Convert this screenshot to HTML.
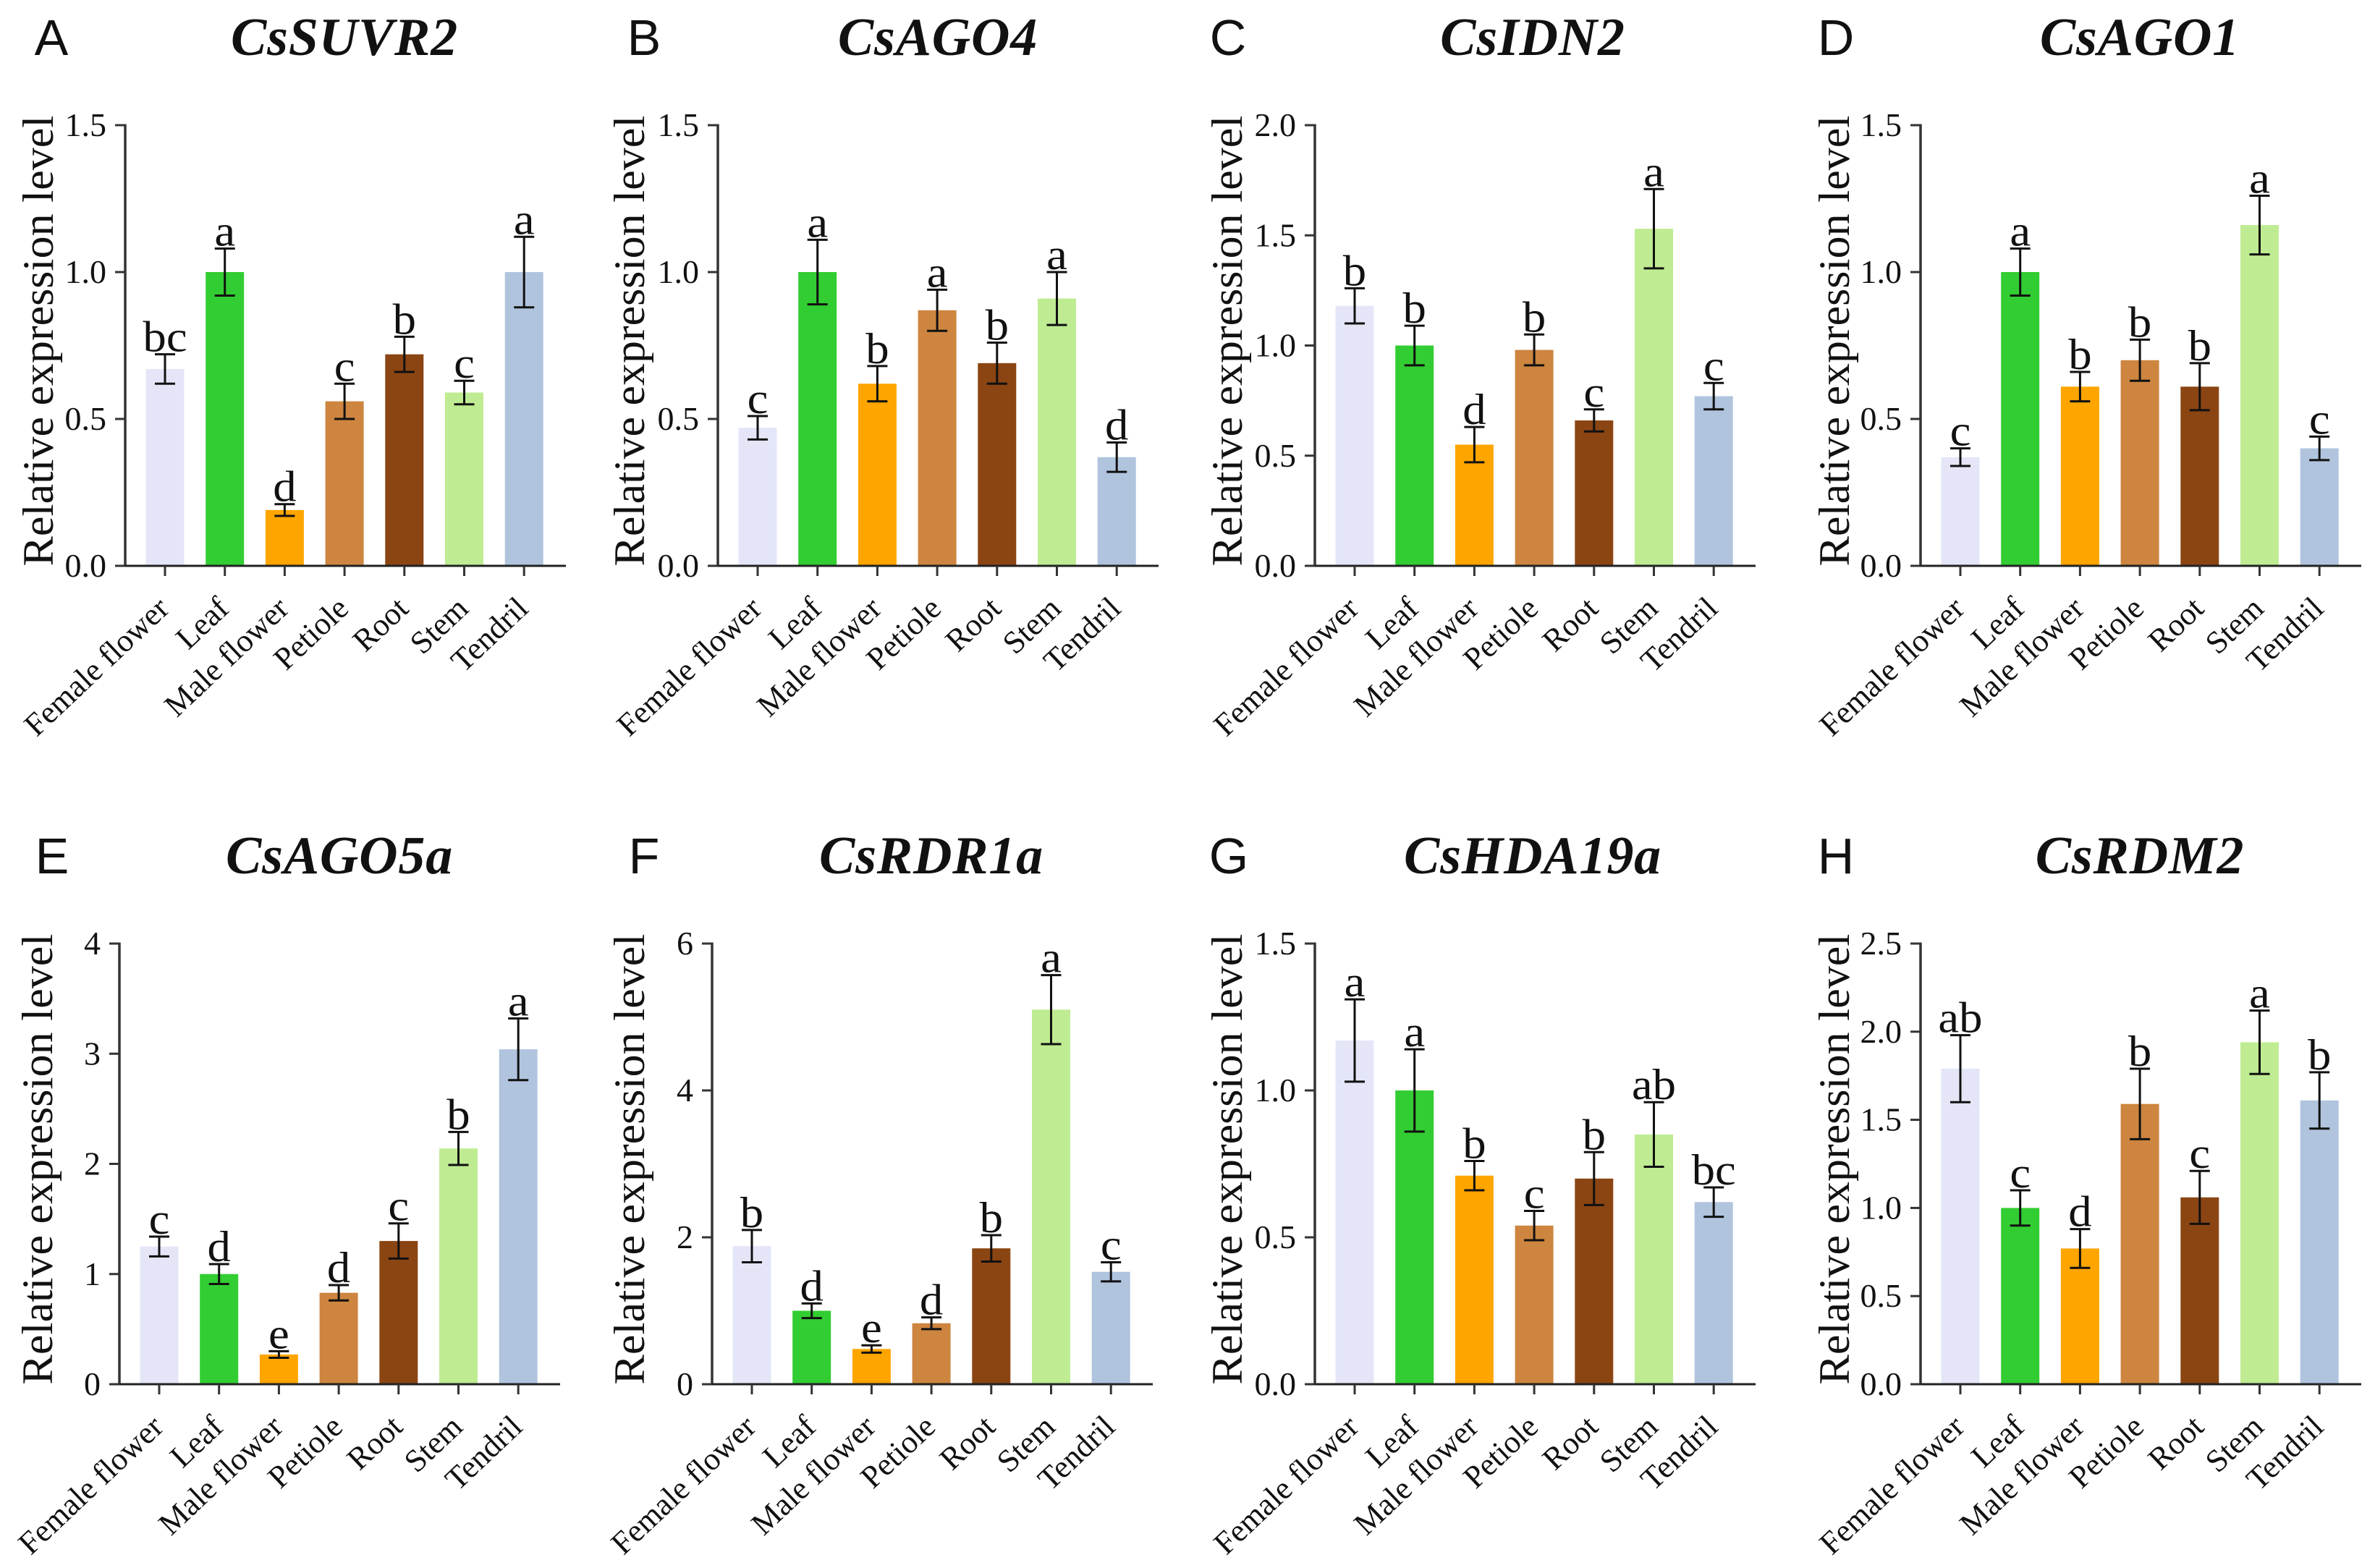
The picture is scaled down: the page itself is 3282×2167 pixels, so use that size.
<!DOCTYPE html>
<html lang="en">
<head>
<meta charset="utf-8">
<title>Relative expression levels of eight genes</title>
<style>
  html, body { margin: 0; padding: 0; background: #fff; }
  svg { display: block; }
  text { fill: #111; font-family: "Liberation Serif", serif; }
  .panel-letter { font-family: "Liberation Sans", sans-serif; font-size: 70px; }
  .title { font-size: 74px; font-weight: bold; font-style: italic; text-anchor: middle; letter-spacing: 0.8px; }
  .ylab { font-size: 60px; text-anchor: middle; }
  .ytick { font-size: 46px; text-anchor: end; }
  .xtick { font-size: 44px; text-anchor: end; }
  .sig { font-size: 60px; text-anchor: middle; }
</style>
</head>
<body>
<svg id="figure" xmlns="http://www.w3.org/2000/svg" width="3282" height="2167" viewBox="0 0 3282 2167"></svg>
<script>
const categories = ['Female flower', 'Leaf', 'Male flower', 'Petiole', 'Root', 'Stem', 'Tendril'];

const valuesA = [0.67, 1.0, 0.19, 0.56, 0.72, 0.59, 1.0];
const errorsA = [0.05, 0.08, 0.02, 0.06, 0.06, 0.04, 0.12];
const lettersA = ['bc', 'a', 'd', 'c', 'b', 'c', 'a'];
const ticksA = ['0.0', '0.5', '1.0', '1.5'];

const valuesB = [0.47, 1.0, 0.62, 0.87, 0.69, 0.91, 0.37];
const errorsB = [0.04, 0.11, 0.06, 0.07, 0.07, 0.09, 0.05];
const lettersB = ['c', 'a', 'b', 'a', 'b', 'a', 'd'];
const ticksB = ['0.0', '0.5', '1.0', '1.5'];

const valuesC = [1.18, 1.0, 0.55, 0.98, 0.66, 1.53, 0.77];
const errorsC = [0.08, 0.09, 0.08, 0.07, 0.05, 0.18, 0.06];
const lettersC = ['b', 'b', 'd', 'b', 'c', 'a', 'c'];
const ticksC = ['0.0', '0.5', '1.0', '1.5', '2.0'];

const valuesD = [0.37, 1.0, 0.61, 0.70, 0.61, 1.16, 0.40];
const errorsD = [0.03, 0.08, 0.05, 0.07, 0.08, 0.10, 0.04];
const lettersD = ['c', 'a', 'b', 'b', 'b', 'a', 'c'];
const ticksD = ['0.0', '0.5', '1.0', '1.5'];

const valuesE = [1.25, 1.0, 0.27, 0.83, 1.30, 2.14, 3.04];
const errorsE = [0.09, 0.09, 0.03, 0.07, 0.16, 0.15, 0.28];
const lettersE = ['c', 'd', 'e', 'd', 'c', 'b', 'a'];
const ticksE = ['0', '1', '2', '3', '4'];

const valuesF = [1.88, 1.0, 0.48, 0.83, 1.85, 5.10, 1.53];
const errorsF = [0.22, 0.10, 0.05, 0.08, 0.18, 0.47, 0.13];
const lettersF = ['b', 'd', 'e', 'd', 'b', 'a', 'c'];
const ticksF = ['0', '2', '4', '6'];

const valuesG = [1.17, 1.0, 0.71, 0.54, 0.70, 0.85, 0.62];
const errorsG = [0.14, 0.14, 0.05, 0.05, 0.09, 0.11, 0.05];
const lettersG = ['a', 'a', 'b', 'c', 'b', 'ab', 'bc'];
const ticksG = ['0.0', '0.5', '1.0', '1.5'];

const valuesH = [1.79, 1.0, 0.77, 1.59, 1.06, 1.94, 1.61];
const errorsH = [0.19, 0.10, 0.11, 0.20, 0.15, 0.18, 0.16];
const lettersH = ['ab', 'c', 'd', 'b', 'c', 'a', 'b'];
const ticksH = ['0.0', '0.5', '1.0', '1.5', '2.0', '2.5'];

const barColors = ['#e4e6f8', '#32cd32', '#ffa500', '#cd853f', '#8b4513', '#bfec92', '#b0c4de'];

const panels = [
  { id: 'A', gene: 'CsSUVR2', values: valuesA, errors: errorsA, letters: lettersA, ticks: ticksA, axisX: 173, top: 173, labelX: 73, letterX: 71, titleX: 476 },
  { id: 'B', gene: 'CsAGO4', values: valuesB, errors: errorsB, letters: lettersB, ticks: ticksB, axisX: 992, top: 173, labelX: 890, letterX: 890, titleX: 1296 },
  { id: 'C', gene: 'CsIDN2', values: valuesC, errors: errorsC, letters: lettersC, ticks: ticksC, axisX: 1817, top: 173, labelX: 1716, letterX: 1697, titleX: 2118 },
  { id: 'D', gene: 'CsAGO1', values: valuesD, errors: errorsD, letters: lettersD, ticks: ticksD, axisX: 2654, top: 173, labelX: 2555, letterX: 2537, titleX: 2957 },
  { id: 'E', gene: 'CsAGO5a', values: valuesE, errors: errorsE, letters: lettersE, ticks: ticksE, axisX: 165, top: 1304, labelX: 72, letterX: 72, titleX: 469 },
  { id: 'F', gene: 'CsRDR1a', values: valuesF, errors: errorsF, letters: lettersF, ticks: ticksF, axisX: 984, top: 1304, labelX: 890, letterX: 890, titleX: 1287 },
  { id: 'G', gene: 'CsHDA19a', values: valuesG, errors: errorsG, letters: lettersG, ticks: ticksG, axisX: 1817, top: 1304, labelX: 1716, letterX: 1698, titleX: 2118 },
  { id: 'H', gene: 'CsRDM2', values: valuesH, errors: errorsH, letters: lettersH, ticks: ticksH, axisX: 2654, top: 1304, labelX: 2555, letterX: 2537, titleX: 2957 }
];

const NS = 'http://www.w3.org/2000/svg';
const svg = document.getElementById('figure');
const PLOT_H = 609, PLOT_W = 609, FIRST = 55, STEP = 82.7, BAR_W = 53, CAP = 14, TICK = 14, STROKE = 3;

function make(parent, tag, attrs, text) {
  const el = document.createElementNS(NS, tag);
  for (const k in attrs) el.setAttribute(k, attrs[k]);
  if (text !== undefined) el.textContent = text;
  parent.appendChild(el);
  return el;
}

function line(parent, x1, y1, x2, y2, color, width) {
  return make(parent, 'line', { x1: x1, y1: y1, x2: x2, y2: y2, stroke: color, 'stroke-width': width });
}

panels.forEach(function (p) {
  const y0 = p.top + PLOT_H;
  const yMax = parseFloat(p.ticks[p.ticks.length - 1]);
  const yScale = function (v) { return y0 - (v / yMax) * PLOT_H; };
  const xScale = function (i) { return p.axisX + FIRST + i * STEP; };

  const g = make(svg, 'g', {});
  
  

  const letterEl = make(g, 'text', { class: 'panel-letter', x: p.letterX, y: p.top < 1000 ? 76 : 1207, 'text-anchor': 'middle' }, p.id);
  
  

  const titleEl = make(g, 'text', { class: 'title', x: p.titleX, y: p.top < 1000 ? 76 : 1207 }, p.gene);
  
  

  const ylab = make(g, 'text', { class: 'ylab', textLength: 623, lengthAdjust: 'spacingAndGlyphs', transform: 'translate(' + p.labelX + ',' + (p.top + 298) + ') rotate(-90)' }, 'Relative expression level');
  
  

  p.values.forEach(function (v, i) {
    const bar = make(g, 'rect', { x: xScale(i) - BAR_W / 2, y: yScale(v), width: BAR_W, height: y0 - yScale(v), fill: barColors[i] });
    
    
  });

  const yAxis = line(g, p.axisX, p.top - 1.5, p.axisX, y0 + 1.5, '#333', STROKE + 0.5);
  
  

  const xAxis = line(g, p.axisX - TICK, y0, p.axisX + PLOT_W, y0, '#222', STROKE);
  
  

  p.ticks.forEach(function (t) {
    const y = yScale(parseFloat(t));
    const mark = line(g, p.axisX - TICK, y, p.axisX, y, '#333', STROKE);
    
    
    const lab = make(g, 'text', { class: 'ytick', x: p.axisX - 26, y: y + 15 }, t);
    
    
  });

  categories.forEach(function (c, i) {
    const x = xScale(i);
    const mark = line(g, x, y0, x, y0 + TICK, '#333', STROKE);
    
    
    const lab = make(g, 'text', { class: 'xtick', transform: 'translate(' + (x + 8) + ',' + (y0 + 62) + ') rotate(-43.4)' }, c);
    
    
  });

  p.values.forEach(function (v, i) {
    const x = xScale(i), hi = yScale(v + p.errors[i]), lo = yScale(v - p.errors[i]);
    const eg = make(g, 'g', { stroke: '#111', 'stroke-width': STROKE });
    
    
    line(eg, x, hi, x, lo, '#111', STROKE);
    line(eg, x - CAP, hi, x + CAP, hi, '#111', STROKE);
    line(eg, x - CAP, lo, x + CAP, lo, '#111', STROKE);
    const sig = make(g, 'text', { class: 'sig', transform: 'translate(' + x + ',' + (hi - 4) + ') scale(1.08,1)' }, p.letters[i]);
    
    
  });
});
</script>
</body>
</html>
